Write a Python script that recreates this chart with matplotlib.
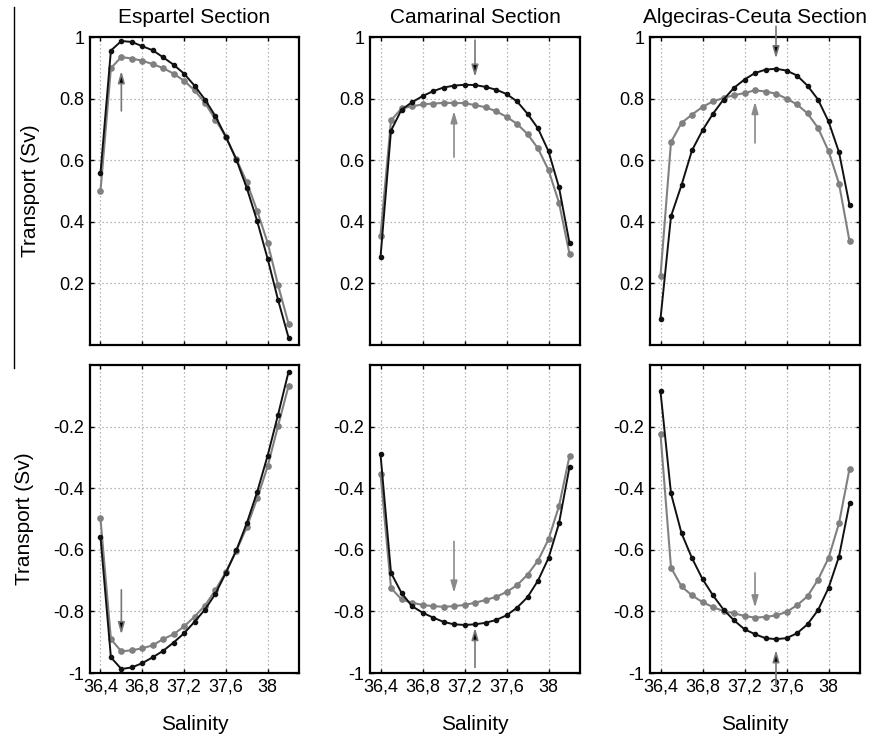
import matplotlib
matplotlib.use("Agg")
import matplotlib.pyplot as plt
from matplotlib.lines import Line2D
import numpy as np

plt.rcParams['font.family'] = ['Liberation Sans', 'DejaVu Sans']

salinity = [36.4, 36.5, 36.6, 36.7, 36.8, 36.9, 37.0, 37.1, 37.2, 37.3,
            37.4, 37.5, 37.6, 37.7, 37.8, 37.9, 38.0, 38.1, 38.2]

titles = ["Espartel Section", "Camarinal Section", "Algeciras-Ceuta Section"]

# Top row (positive transport)
esp_top_black = [0.557, 0.956, 0.987, 0.984, 0.970, 0.957, 0.934, 0.910, 0.881, 0.842,
                 0.797, 0.743, 0.676, 0.602, 0.510, 0.402, 0.280, 0.146, 0.024]
esp_top_gray = [0.499, 0.899, 0.935, 0.930, 0.923, 0.912, 0.899, 0.881, 0.858, 0.827,
                0.786, 0.732, 0.676, 0.604, 0.529, 0.435, 0.332, 0.194, 0.069]
cam_top_black = [0.285, 0.696, 0.764, 0.788, 0.808, 0.824, 0.836, 0.842, 0.845, 0.844,
                 0.838, 0.829, 0.815, 0.791, 0.751, 0.703, 0.629, 0.512, 0.331]
cam_top_gray = [0.355, 0.729, 0.768, 0.775, 0.781, 0.784, 0.786, 0.786, 0.785, 0.779,
                0.772, 0.759, 0.741, 0.718, 0.685, 0.638, 0.568, 0.462, 0.296]
alg_top_black = [0.085, 0.418, 0.519, 0.632, 0.697, 0.751, 0.797, 0.835, 0.862, 0.883,
                 0.894, 0.897, 0.891, 0.875, 0.842, 0.797, 0.726, 0.626, 0.454]
alg_top_gray = [0.224, 0.659, 0.721, 0.748, 0.773, 0.791, 0.802, 0.811, 0.818, 0.827,
                0.823, 0.816, 0.800, 0.781, 0.752, 0.705, 0.630, 0.524, 0.337]

# Bottom row (negative transport)
esp_bot_black = [-0.557, -0.949, -0.987, -0.982, -0.968, -0.949, -0.928, -0.901, -0.871, -0.834,
                 -0.794, -0.743, -0.675, -0.602, -0.514, -0.412, -0.294, -0.161, -0.022]
esp_bot_gray = [-0.498, -0.890, -0.930, -0.926, -0.920, -0.910, -0.890, -0.874, -0.849, -0.817,
                -0.781, -0.731, -0.672, -0.603, -0.527, -0.433, -0.329, -0.197, -0.068]
cam_bot_black = [-0.290, -0.675, -0.740, -0.783, -0.804, -0.820, -0.834, -0.842, -0.844, -0.842,
                 -0.837, -0.828, -0.813, -0.788, -0.754, -0.700, -0.627, -0.514, -0.331]
cam_bot_gray = [-0.353, -0.724, -0.761, -0.772, -0.779, -0.783, -0.785, -0.783, -0.779, -0.772,
                -0.763, -0.753, -0.737, -0.715, -0.681, -0.635, -0.566, -0.458, -0.296]
alg_bot_black = [-0.086, -0.417, -0.546, -0.627, -0.695, -0.748, -0.794, -0.829, -0.858, -0.874,
                 -0.887, -0.890, -0.887, -0.871, -0.842, -0.796, -0.724, -0.622, -0.449]
alg_bot_gray = [-0.224, -0.658, -0.719, -0.748, -0.770, -0.786, -0.799, -0.806, -0.815, -0.820,
                -0.818, -0.813, -0.802, -0.780, -0.751, -0.697, -0.627, -0.514, -0.337]

x_ticks = [36.4, 36.8, 37.2, 37.6, 38.0]
x_ticklabels = ["36,4", "36,8", "37,2", "37,6", "38"]
top_yticks = [0.2, 0.4, 0.6, 0.8, 1.0]
top_yticklabels = ["0.2", "0.4", "0.6", "0.8", "1"]
bot_yticks = [-1.0, -0.8, -0.6, -0.4, -0.2]
bot_yticklabels = ["-1", "-0.8", "-0.6", "-0.4", "-0.2"]

# arrows: (row, col, x, y_from, y_to, head color)
arrows = [
    (0, 0, 36.6, 0.76, 0.89, "black"),
    (0, 1, 37.3, 0.99, 0.87, "black"),
    (0, 1, 37.1, 0.61, 0.76, "gray"),
    (0, 2, 37.5, 1.035, 0.93, "black"),
    (0, 2, 37.3, 0.656, 0.79, "gray"),
    (1, 0, 36.6, -0.73, -0.875, "black"),
    (1, 1, 37.1, -0.573, -0.74, "gray"),
    (1, 1, 37.3, -0.982, -0.853, "black"),
    (1, 2, 37.3, -0.675, -0.788, "gray"),
    (1, 2, 37.5, -1.04, -0.925, "black"),
]

W, H = 872, 736
fig = plt.figure(figsize=(W / 100, H / 100), dpi=100)

col_left = [90, 370, 650]
col_w = [209, 210, 210]
row_top = [37, 365]
row_h = 308

data = [
    [(esp_top_black, esp_top_gray), (cam_top_black, cam_top_gray), (alg_top_black, alg_top_gray)],
    [(esp_bot_black, esp_bot_gray), (cam_bot_black, cam_bot_gray), (alg_bot_black, alg_bot_gray)],
]

black_c = "#111111"
gray_c = "#808080"

axes = {}
for r in range(2):
    for c in range(3):
        left = col_left[c] / W
        bottom = 1 - (row_top[r] + row_h) / H
        ax = fig.add_axes([left, bottom, col_w[c] / W, row_h / H])
        axes[(r, c)] = ax
        blk, gry = data[r][c]
        ax.plot(salinity, gry, color=gray_c, lw=1.5, marker='o', ms=3.8, mfc=gray_c, mec=gray_c, zorder=3)
        ax.plot(salinity, blk, color=black_c, lw=1.4, marker='o', ms=3.0, mfc=black_c, mec=black_c, zorder=4)
        ax.set_xlim(36.3, 38.3)
        if r == 0:
            ax.set_ylim(0, 1)
            ax.set_yticks(top_yticks)
            ax.set_yticklabels(top_yticklabels)
            ax.set_title(titles[c], fontsize=15, pad=10)
            ax.set_xticks(x_ticks)
            ax.set_xticklabels([])
        else:
            ax.set_ylim(-1, 0)
            ax.set_yticks(bot_yticks)
            ax.set_yticklabels(bot_yticklabels)
            ax.set_xticks(x_ticks)
            ax.set_xticklabels(x_ticklabels)
            ax.set_xlabel("Salinity", fontsize=15, labelpad=14)
        if c == 0:
            ax.set_ylabel("Transport (Sv)", fontsize=15, labelpad=14)
        ax.grid(True, linestyle=(0, (1, 2.2)), color="#a0a0a0", lw=0.9)
        ax.tick_params(direction='in', length=3, width=1, labelsize=13,
                       top=True, right=True, pad=4)
        for sp in ax.spines.values():
            sp.set_linewidth(1.6)
            sp.set_color("black")

for (r, c, x, y0, y1, hc) in arrows:
    ax = axes[(r, c)]
    ec = "#777777" if hc == "black" else "#8a8a8a"
    fc = "#000000" if hc == "black" else "#8a8a8a"
    ax.annotate("", xy=(x, y1), xytext=(x, y0), xycoords='data',
                arrowprops=dict(arrowstyle="-|>,head_length=0.7,head_width=0.2",
                                lw=1.2, edgecolor=ec, facecolor=fc,
                                shrinkA=0, shrinkB=0),
                annotation_clip=False, zorder=6)

# thin vertical rule at the far left of the figure
fig.add_artist(Line2D([14 / W, 14 / W], [1 - 7 / H, 1 - 368 / H], color="black", lw=1.0,
                      transform=fig.transFigure))

fig.savefig("out.png", dpi=100)
